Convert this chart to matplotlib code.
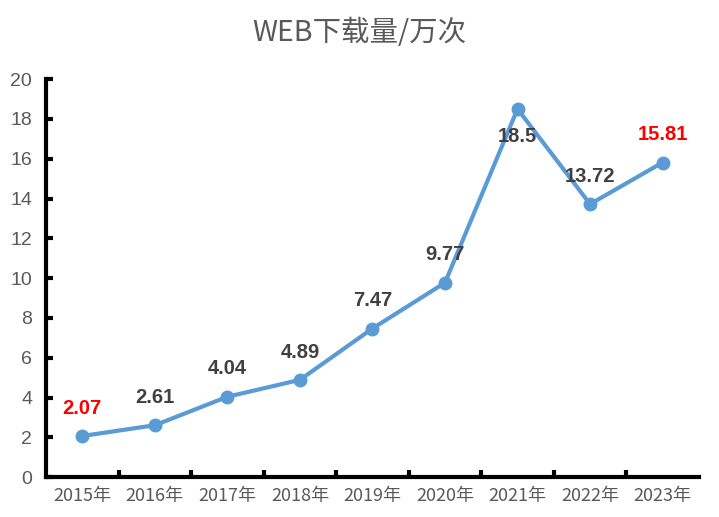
import matplotlib
matplotlib.use("Agg")
from matplotlib import pyplot as plt

plt.rcParams['font.family'] = ['Noto Sans CJK SC', 'DejaVu Sans']

years = ['2015年', '2016年', '2017年', '2018年', '2019年', '2020年', '2021年', '2022年', '2023年']
downloads = [2.07, 2.61, 4.04, 4.89, 7.47, 9.77, 18.5, 13.72, 15.81]
label_colors = ['red', '#404040', '#404040', '#404040', '#404040', '#404040', '#404040', '#404040', 'red']
label_below = [False, False, False, False, False, False, True, False, False]

fig = plt.figure(figsize=(7.19, 5.17), dpi=100)
ax = fig.add_axes([0.064, 0.077, 0.908, 0.770])

x = list(range(len(years)))
ax.plot(x, downloads, '-o', color='#5B9BD5', lw=3, markersize=9, zorder=3)

for i, v in enumerate(downloads):
    dy = -20 if label_below[i] else 20
    ax.annotate(str(v), (i, v), xytext=(0, dy), textcoords='offset points',
                ha='center', va='center', fontsize=14.5, fontweight='bold',
                color=label_colors[i], family='Liberation Sans', zorder=4)

ax.set_xlim(-0.5, len(years) - 0.5)
ax.set_ylim(0, 20)
ax.set_yticks(range(0, 21, 2))
ax.set_xticks(x)
ax.set_xticklabels(years)
ax.set_xticks([i + 0.5 for i in range(len(years) - 1)], minor=True)

for s in ['top', 'right']:
    ax.spines[s].set_visible(False)
for s in ['left', 'bottom']:
    ax.spines[s].set_linewidth(3)
    ax.spines[s].set_color('black')

ax.tick_params(axis='y', direction='in', length=5, width=3, colors='black',
               labelcolor='#595959', labelsize=14, pad=10)
ax.tick_params(axis='x', which='major', length=0, labelcolor='#595959', labelsize=13, pad=7)
ax.tick_params(axis='x', which='minor', direction='in', length=5, width=3, color='black')
for lab in ax.get_yticklabels():
    lab.set_family('Liberation Sans')

fig.suptitle('WEB下载量/万次', x=0.5, y=0.965, fontsize=20.5, color='#595959')

fig.savefig('out.png', dpi=100)
